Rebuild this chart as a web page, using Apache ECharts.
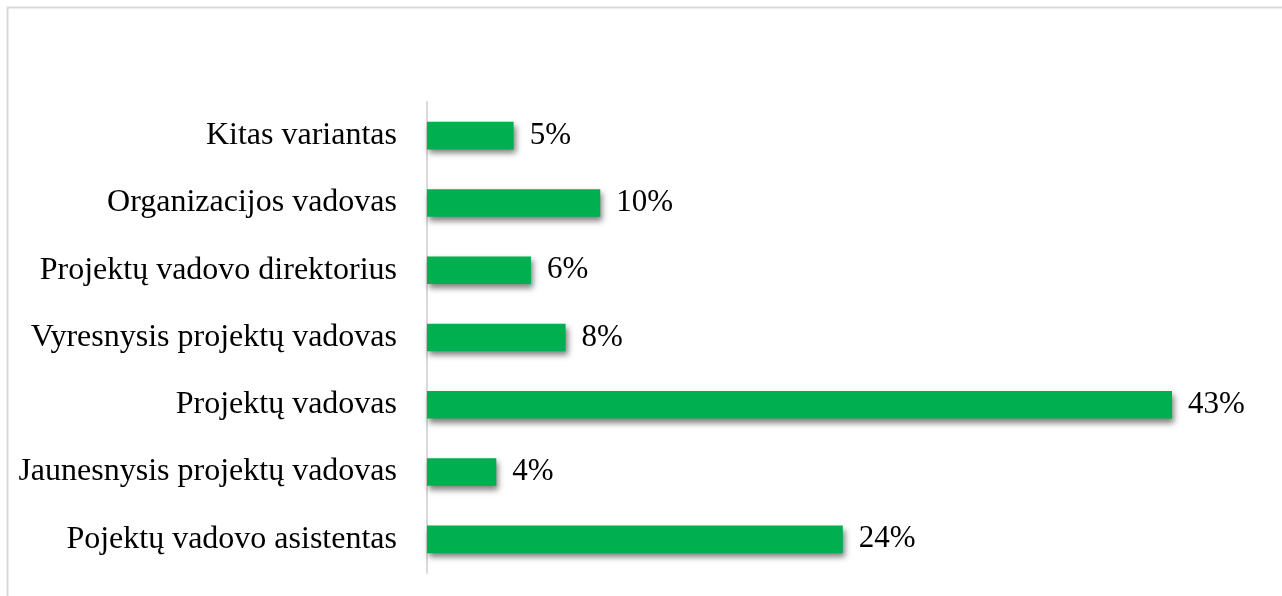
<!DOCTYPE html>
<html>
<head>
<meta charset="utf-8">
<script src="https://cdn.jsdelivr.net/npm/echarts@6/dist/echarts.min.js"></script>
<style>
  html, body { margin: 0; padding: 0; background: #ffffff; }
  #chart { width: 1282px; height: 596px; }
</style>
</head>
<body>
<div id="chart"></div>
<script>
// Roles, listed bottom to top as they appear on the category axis
const categories = [
  'Pojektų vadovo asistentas',
  'Jaunesnysis projektų vadovas',
  'Projektų vadovas',
  'Vyresnysis projektų vadovas',
  'Projektų vadovo direktorius',
  'Organizacijos vadovas',
  'Kitas variantas'
];
// Share of respondents, percent
const shares = [24, 4, 43, 8, 6, 10, 5];

const chart = echarts.init(document.getElementById('chart'), null, { renderer: 'canvas' });

const font = '"Liberation Serif", "Times New Roman", serif';

chart.setOption({
  animation: false,
  backgroundColor: '#ffffff',
  graphic: [{
    type: 'rect',
    shape: { x: 7.5, y: 7.5, width: 1400, height: 800 },
    style: { fill: 'none', stroke: '#d9d9d9', lineWidth: 2 },
    silent: true,
    z: -10
  }],
  grid: { left: 427, right: 110, top: 102, bottom: 23, containLabel: false },
  xAxis: {
    type: 'value',
    min: 0,
    max: 43,
    show: false,
    splitLine: { show: false }
  },
  yAxis: {
    type: 'category',
    data: categories,
    axisLine: { show: true, lineStyle: { color: '#d9d9d9', width: 2 } },
    axisTick: { show: false },
    axisLabel: {
      margin: 30,
      color: '#000000',
      fontFamily: font,
      fontSize: 32
    }
  },
  series: [{
    type: 'bar',
    data: shares,
    barWidth: '41%',
    itemStyle: {
      color: '#00b050',
      shadowColor: 'rgba(0,0,0,0.5)',
      shadowBlur: 6,
      shadowOffsetX: 2,
      shadowOffsetY: 4
    },
    label: {
      show: true,
      position: 'right',
      distance: 16,
      formatter: '{c}%',
      color: '#000000',
      fontFamily: font,
      fontSize: 31
    }
  }]
});
</script>
</body>
</html>
